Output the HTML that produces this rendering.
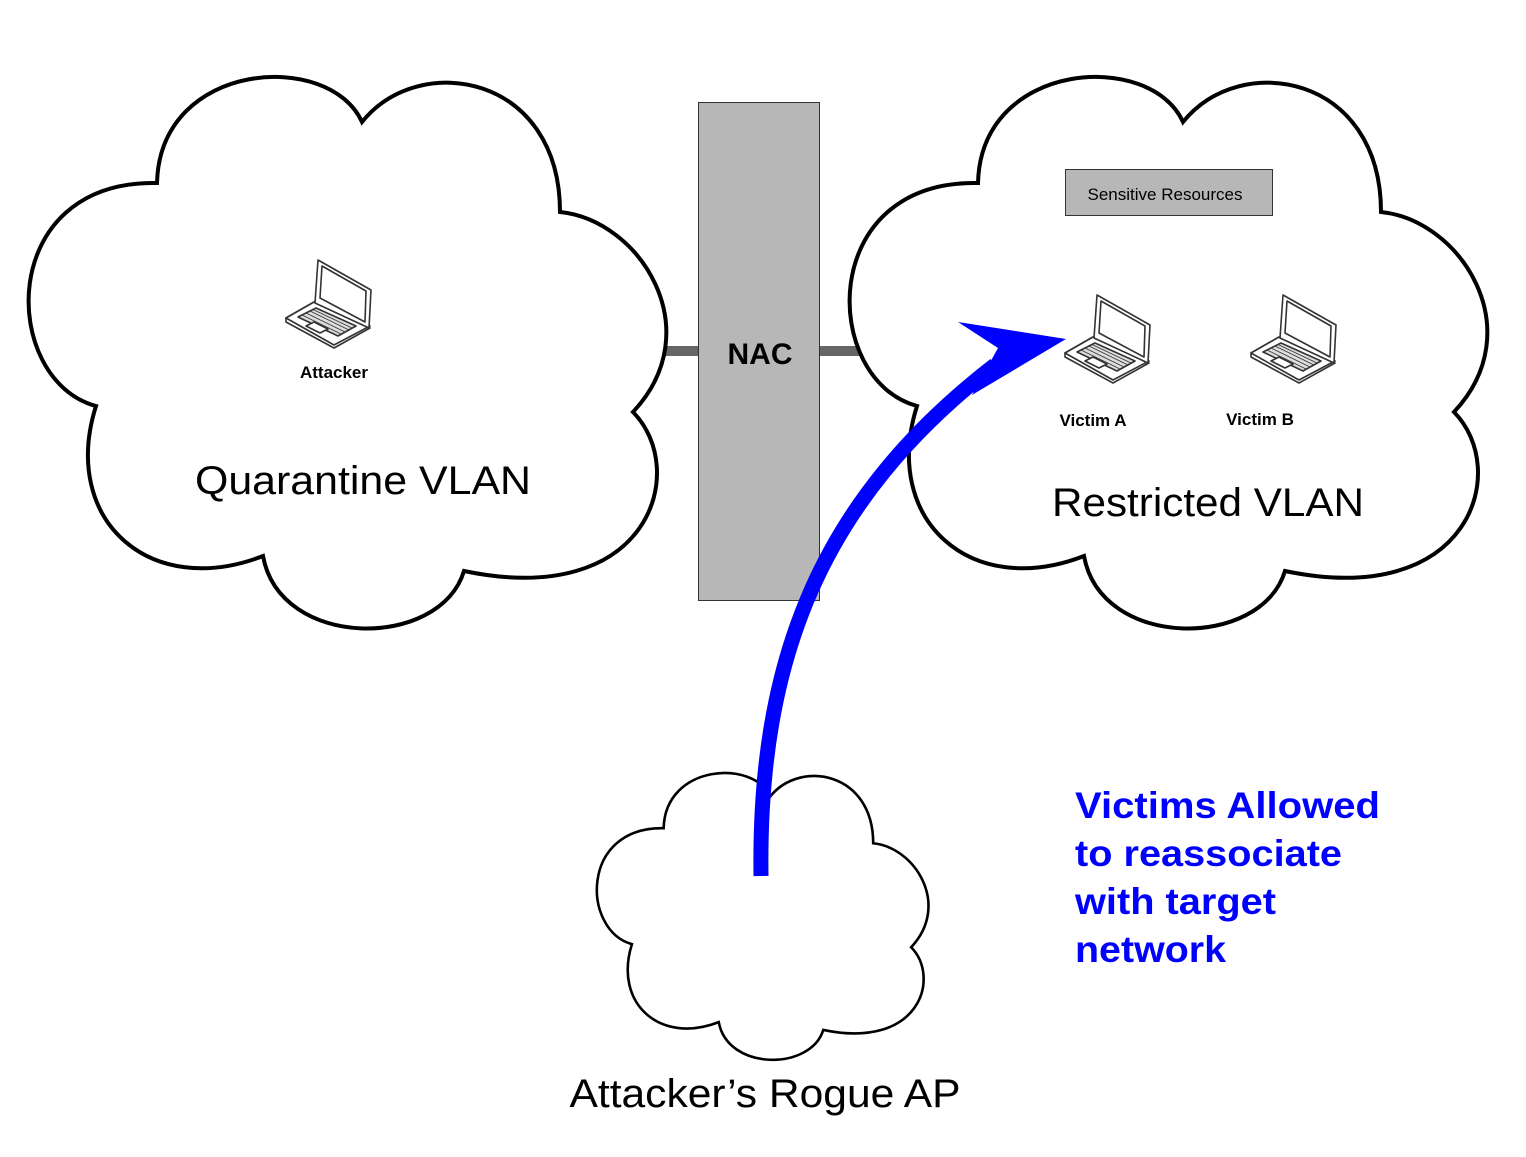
<!DOCTYPE html>
<html><head><meta charset="utf-8"><style>
html,body{margin:0;padding:0;background:#fff;}
svg{display:block;}
text{font-family:"Liberation Sans",Arial,sans-serif;}
</style></head><body>
<svg width="1526" height="1157" viewBox="0 0 1526 1157" xmlns="http://www.w3.org/2000/svg">
<defs>
<path id="cloud" d="M157,183 C160,60 330,50 362,122 C420,50 560,75 560,212 C640,220 710,330 633,412 C690,470 650,610 464,571 C440,650 280,650 263,556 C150,600 60,520 96,406 C0,380 -5,180 157,183 Z"/>
<g id="laptop" fill="#fff" stroke="#333" stroke-width="1.6" stroke-linejoin="round">
<polygon points="0,58 28,42 84,68 48,88 0,62"/>
<polygon points="0,58 28,42 84,66 48,85"/>
<polygon points="29,43 32,0 85,30 83,68"/>
<polygon points="34,38 36,6 80,31 79,62"/>
<polygon points="12,57 30,48 70,66 52,76" fill="#ddd"/>
<path d="M16,55 L55,74 M20,53 L59,72 M24,51 L63,70 M27,49.5 L66,68" stroke-width="0.8"/>
<polygon points="20,66 28,62 42,69 34,73"/>
</g>
</defs>

<line x1="660" y1="351" x2="700" y2="351" stroke="#666" stroke-width="10"/>
<line x1="818" y1="351" x2="865" y2="351" stroke="#666" stroke-width="10"/>

<use href="#cloud" fill="#fff" stroke="#000" stroke-width="4"/>
<g transform="translate(821,0)"><use href="#cloud" fill="#fff" stroke="#000" stroke-width="4"/></g>
<g transform="translate(582,733) scale(0.52)"><use href="#cloud" fill="#fff" stroke="#000" stroke-width="5"/></g>

<rect x="698.5" y="102.5" width="121" height="498" fill="#b7b7b7" stroke="#333" stroke-width="1"/>
<text x="760" y="364" font-size="30" font-weight="bold" text-anchor="middle">NAC</text>

<rect x="1065.5" y="169.5" width="207" height="46" fill="#b7b7b7" stroke="#333" stroke-width="1"/>
<text x="1165" y="200" font-size="17" text-anchor="middle">Sensitive Resources</text>

<g transform="translate(286,260)"><use href="#laptop"/></g>
<g transform="translate(1065,295)"><use href="#laptop"/></g>
<g transform="translate(1251,295)"><use href="#laptop"/></g>

<text x="334" y="378" font-size="17" font-weight="bold" text-anchor="middle">Attacker</text>
<text x="1093" y="426" font-size="17" font-weight="bold" text-anchor="middle">Victim A</text>
<text x="1260" y="425" font-size="17" font-weight="bold" text-anchor="middle">Victim B</text>

<text x="363" y="494" font-size="40" text-anchor="middle" textLength="336" lengthAdjust="spacingAndGlyphs">Quarantine VLAN</text>
<text x="1208" y="516" font-size="40" text-anchor="middle" textLength="312" lengthAdjust="spacingAndGlyphs">Restricted VLAN</text>
<text x="765" y="1107" font-size="40" text-anchor="middle" textLength="391" lengthAdjust="spacingAndGlyphs">Attacker’s Rogue AP</text>

<path d="M761,876 C758,660 820,500 995,365" fill="none" stroke="#0000ff" stroke-width="15"/>
<polygon points="1066,339 958,322 998,348 972,395" fill="#0000ff"/>

<g fill="#0000ff" font-size="37" font-weight="bold">
<text x="1075" y="818" textLength="305" lengthAdjust="spacingAndGlyphs">Victims Allowed</text>
<text x="1075" y="866" textLength="267" lengthAdjust="spacingAndGlyphs">to reassociate</text>
<text x="1075" y="914" textLength="201" lengthAdjust="spacingAndGlyphs">with target</text>
<text x="1075" y="962" textLength="151" lengthAdjust="spacingAndGlyphs">network</text>
</g>
</svg>
</body></html>
